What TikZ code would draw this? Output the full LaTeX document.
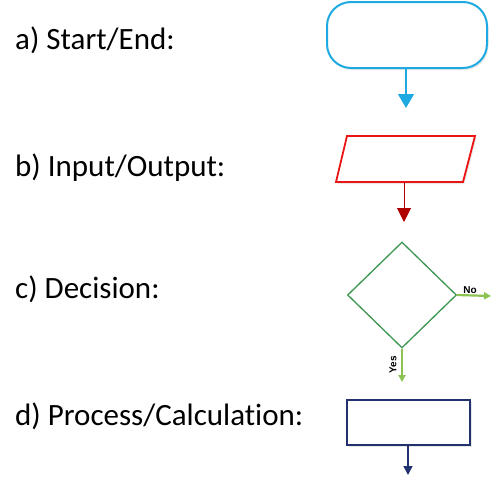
\documentclass[tikz,border=0pt]{standalone}
\usepackage{fontspec}
\setmainfont{Carlito}[Ligatures=NoCommon]
\newfontfamily\arialfont{Liberation Sans}
\usepackage{xcolor}
\definecolor{Col1}{RGB}{30,170,225}
\definecolor{Col2}{RGB}{235,20,20}
\definecolor{Col3}{RGB}{175,0,0}
\definecolor{Col4}{RGB}{60,150,80}
\definecolor{Col5}{RGB}{140,195,80}
\definecolor{Col6}{RGB}{35,50,110}
\usetikzlibrary{shapes.geometric}
\usetikzlibrary{arrows.meta}
\usetikzlibrary{shadows}
\tikzstyle{Shad}=[drop shadow={opacity=0.18,shadow xshift=1.5pt,
    shadow yshift=-2pt}]
\tikzstyle{Label}=[anchor=base west,inner sep=0pt,
    font=\fontsize{31}{36}\selectfont]
\tikzstyle{Terminal}=[rectangle,rounded corners=24pt,draw=Col1,
    line width=2pt,fill=white,minimum width=160pt,minimum height=66pt,
    inner sep=0pt,Shad]
\tikzstyle{InOut}=[draw=Col2,line width=1.8pt,fill=white,Shad]
\tikzstyle{Decision}=[diamond,draw=Col4,line width=1.3pt,fill=white,
    minimum width=109pt,minimum height=106pt,inner sep=0pt]
\tikzstyle{Process}=[rectangle,draw=Col6,line width=1.8pt,fill=white,
    minimum width=123pt,minimum height=45pt,inner sep=0pt,Shad]
\tikzstyle{Small}=[font=\arialfont\bfseries\fontsize{10}{11}\selectfont,
    inner sep=0pt]

\begin{document}
\begin{tikzpicture}[x=1pt,y=-1pt]
    \useasboundingbox(0,0)rectangle(493,477);
    % labels
    \node[Label](la)at(15,49){a) Start/End:};
    \node[Label](lb)at(15,176){b) Input/Output:};
    \node[Label](lc)at(15,298){c) Decision:};
    \node[Label](ld)at(15,425){d) Process/Calculation:};
    % symbols
    \node[Terminal](term)at(407,35){};
    \coordinate(io1)at(347,136);
    \coordinate(io2)at(475,136);
    \coordinate(io3)at(463,182);
    \coordinate(io4)at(336,182);
    \path[InOut](io1)--(io2)--(io3)--(io4)--cycle;
    \coordinate(io)at(404,182);
    \node[Decision](dec)at(402,295){};
    \node[Process](proc)at(408.5,422.5){};
    % arrow ends
    \coordinate(termE)at(406,108);
    \coordinate(ioE)at(404,222);
    \coordinate(yesE)at(402,382);
    \coordinate(noE)at(491,296);
    \coordinate(procE)at(408,475);
    \draw[Col1,line width=1.2pt,-{Triangle[width=16pt,length=14pt]}]
        (term.south-|termE)--(termE);
    \draw[Col3,line width=1pt,-{Triangle[width=14pt,length=14pt]}]
        (io)--(ioE);
    \draw[Col5,line width=2.2pt,-{Triangle[width=7pt,length=7pt]}]
        (dec.south)--(yesE);
    \draw[Col5,line width=2.2pt,-{Triangle[width=7pt,length=7pt]}]
        (dec.east)--(noE);
    \draw[Col6,line width=1.5pt,-{Triangle[width=9pt,length=9pt]}]
        (proc.south-|procE)--(procE);
    \node[Small](no)at(470,290){No};
    \node[Small,rotate=90](yes)at(393,365){Yes};
\end{tikzpicture}
\end{document}
